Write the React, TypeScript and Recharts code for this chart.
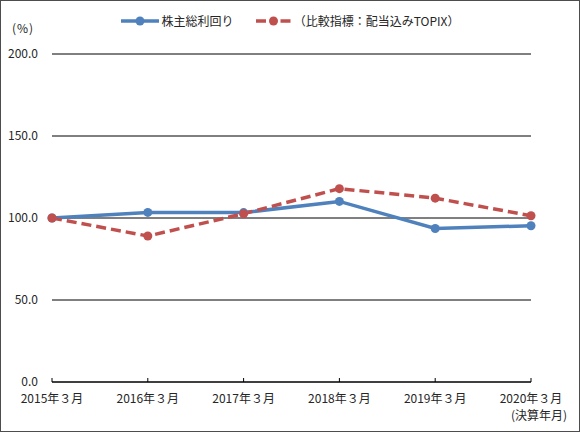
import { LineChart, Line, XAxis, YAxis, CartesianGrid, Legend } from 'recharts'

const CATEGORIES = ['2015年３月', '2016年３月', '2017年３月', '2018年３月', '2019年３月', '2020年３月']
const TSR = [100, 103.4, 103.3, 110.1, 93.6, 95.3]
const TOPIX = [100, 89.0, 102.6, 117.9, 112.1, 101.4]
const Y_TICKS = [0, 50, 100, 150, 200]

const BLUE = '#4F81BD'
const RED = '#C0504D'
const TEXT = '#262626'
const FONT = '"Noto Sans CJK JP", "Noto Sans", sans-serif'

const data = CATEGORIES.map((name, i) => ({ name, tsr: TSR[i], topix: TOPIX[i] }))

// 目盛線は軸の上側に、ラベルは下側に
const XTick = (props: any) => {
  const { x, y, payload } = props
  return (
    <g>
      <line x1={x} x2={x} y1={y - 4} y2={y} stroke="#000" strokeWidth={1} />
      <text x={x} y={y + 21} textAnchor="middle" fontSize={12} fill={TEXT} fontFamily={FONT}>
        {payload.value}
      </text>
    </g>
  )
}

const LegendContent = () => (
  <div
    style={{
      display: 'flex',
      justifyContent: 'center',
      alignItems: 'center',
      gap: 22,
      fontSize: 12,
      color: TEXT,
      fontFamily: FONT,
    }}
  >
    <div style={{ display: 'flex', alignItems: 'center', gap: 3 }}>
      <svg width={38} height={10}>
        <line x1={0} x2={38} y1={5} y2={5} stroke={BLUE} strokeWidth={3.5} />
        <circle cx={19} cy={5} r={4.5} fill={BLUE} />
      </svg>
      <span>株主総利回り</span>
    </div>
    <div style={{ display: 'flex', alignItems: 'center', gap: 3 }}>
      <svg width={35} height={10}>
        <line x1={0} x2={35} y1={5} y2={5} stroke={RED} strokeWidth={3.5} strokeDasharray="10 14.5 10" />
        <circle cx={17.5} cy={5} r={4.5} fill={RED} />
      </svg>
      <span>（比較指標：配当込みTOPIX）</span>
    </div>
  </div>
)

export default function App() {
  return (
    <div style={{ position: 'absolute', top: 0, left: 0, width: 580, height: 432, background: '#fff' }}>
      <LineChart width={580} height={432} data={data} margin={{ top: 54, right: 49, bottom: 0, left: 0 }}>
        <CartesianGrid horizontal vertical={false} stroke="#000" strokeWidth={1} />
        <XAxis
          dataKey="name"
          height={50}
          interval={0}
          tickSize={0}
          tickMargin={0}
          tickLine={false}
          axisLine={{ stroke: '#000', strokeWidth: 1 }}
          tick={<XTick />}
        />
        <YAxis
          width={52}
          domain={[0, 200]}
          ticks={Y_TICKS}
          axisLine={false}
          tickLine={false}
          tickSize={0}
          tickMargin={14}
          tickFormatter={(v: number) => v.toFixed(1)}
          tick={{ fontSize: 12, fill: TEXT, fontFamily: FONT }}
        />
        <Legend
          layout="vertical"
          align="center"
          verticalAlign="middle"
          wrapperStyle={{ top: 12, left: 0, width: 580 }}
          content={<LegendContent />}
        />
        <Line
          dataKey="tsr"
          stroke={BLUE}
          strokeWidth={3.5}
          dot={{ r: 4.5, fill: BLUE, stroke: 'none' }}
          activeDot={false}
          isAnimationActive={false}
        />
        <Line
          dataKey="topix"
          stroke={RED}
          strokeWidth={3.5}
          strokeDasharray="10 5"
          dot={{ r: 4.5, fill: RED, stroke: 'none', strokeDasharray: '' }}
          activeDot={false}
          isAnimationActive={false}
        />
      </LineChart>
      <div style={{ position: 'absolute', left: 12, top: 19, fontSize: 12, color: TEXT, fontFamily: FONT, letterSpacing: 1 }}>
        (%)
      </div>
      <div style={{ position: 'absolute', right: 13, top: 406, fontSize: 12, color: TEXT, fontFamily: FONT }}>
        (決算年月)
      </div>
      <div
        style={{
          position: 'absolute',
          inset: 0,
          border: '1.5px solid #4d4d4d',
          boxSizing: 'border-box',
          pointerEvents: 'none',
        }}
      />
    </div>
  )
}
